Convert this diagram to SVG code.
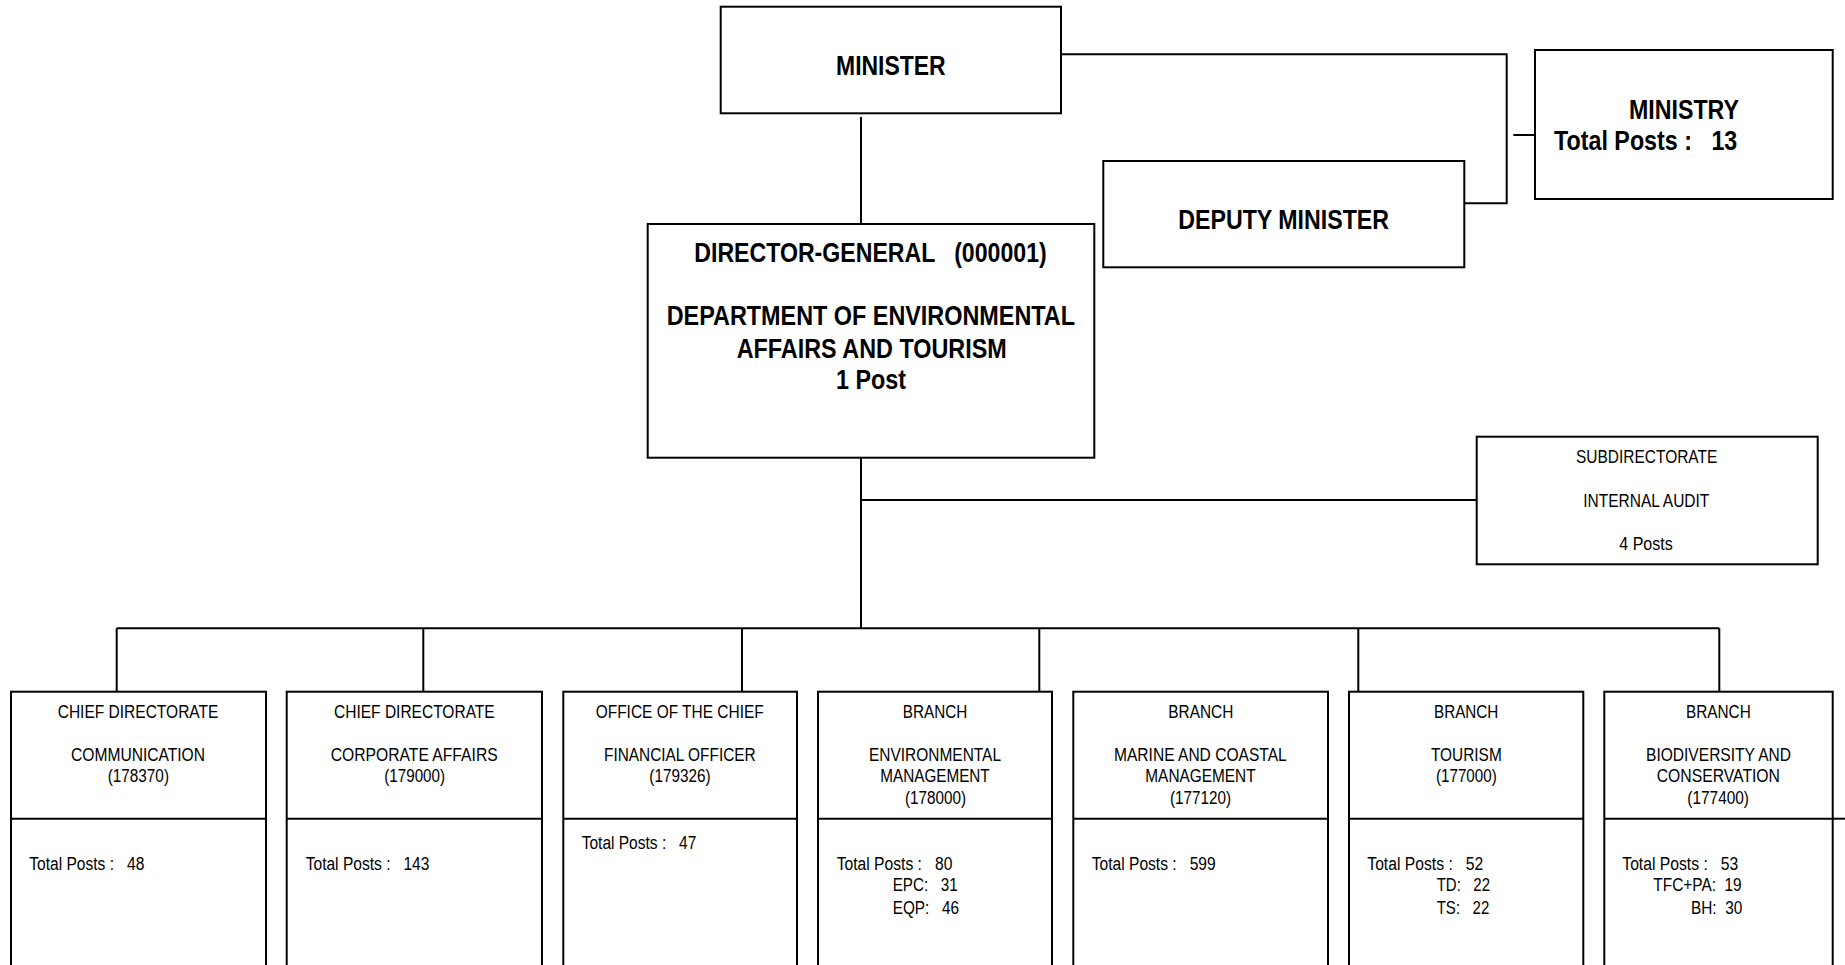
<svg xmlns="http://www.w3.org/2000/svg" width="1845" height="965" viewBox="0 0 1845 965">
<style>
text{font-family:"Liberation Sans Narrow","Liberation Sans",Arial,sans-serif;fill:#000;white-space:pre}
.b{font-weight:bold;font-size:27.5px}
.s{font-size:18px}
.box{fill:#fff;stroke:#000;stroke-width:2}
.ln{fill:none;stroke:#000;stroke-width:2}
</style>
<rect x="0" y="0" width="1845" height="965" fill="#fff"/>
<g id="connectors">
<path class="ln" d="M861,117 V224"/>
<path class="ln" d="M1061,54.3 H1506.7 V203.3 H1464.3"/>
<path class="ln" d="M1513.3,135 H1535"/>
<path class="ln" d="M861,457.7 V628.3"/>
<path class="ln" d="M861,500 H1476.7"/>
<path class="ln" d="M116.7,628.3 H1719.3"/>
<path class="ln" d="M116.7,628.3 V691.7 M423.3,628.3 V691.7 M742,628.3 V691.7 M1039.3,628.3 V691.7 M1358.3,628.3 V691.7 M1719.3,628.3 V691.7"/>
<path class="ln" d="M1832.7,818.7 H1845"/>
</g>
<g id="minister">
<rect class="box" x="720.7" y="6.7" width="340.3" height="106.6"/>
<text class="b" x="836" y="75" textLength="109.7" lengthAdjust="spacingAndGlyphs">MINISTER</text>
</g>
<g id="deputy-minister">
<rect class="box" x="1103.3" y="161" width="361" height="106.3"/>
<text class="b" x="1178.3" y="229.3" textLength="210.7" lengthAdjust="spacingAndGlyphs">DEPUTY MINISTER</text>
</g>
<g id="ministry">
<rect class="box" x="1535" y="50" width="297.7" height="149"/>
<text class="b" x="1629" y="119" textLength="110" lengthAdjust="spacingAndGlyphs">MINISTRY</text>
<text class="b" x="1554" y="150" textLength="183.3" lengthAdjust="spacingAndGlyphs">Total Posts :   13</text>
</g>
<g id="director-general">
<rect class="box" x="647.7" y="224" width="446.6" height="233.7"/>
<text class="b" x="694.3" y="261.7" textLength="352.4" lengthAdjust="spacingAndGlyphs">DIRECTOR-GENERAL   (000001)</text>
<text class="b" x="666.7" y="325" textLength="408.3" lengthAdjust="spacingAndGlyphs">DEPARTMENT OF ENVIRONMENTAL</text>
<text class="b" x="736.7" y="357.7" textLength="270" lengthAdjust="spacingAndGlyphs">AFFAIRS AND TOURISM</text>
<text class="b" x="836" y="389" textLength="70" lengthAdjust="spacingAndGlyphs">1 Post</text>
</g>
<g id="internal-audit">
<rect class="box" x="1476.7" y="436.7" width="341" height="127.6"/>
<text class="s" x="1576" y="463.3" textLength="141.3" lengthAdjust="spacingAndGlyphs">SUBDIRECTORATE</text>
<text class="s" x="1583.3" y="507.3" textLength="126" lengthAdjust="spacingAndGlyphs">INTERNAL AUDIT</text>
<text class="s" x="1619.3" y="550" textLength="53.4" lengthAdjust="spacingAndGlyphs">4 Posts</text>
</g>
<g id="communication">
<rect class="box" x="11" y="691.7" width="255" height="290"/>
<path class="ln" d="M11,818.7 H266"/>
<text class="s" x="57.7" y="717.7" textLength="160.7" lengthAdjust="spacingAndGlyphs">CHIEF DIRECTORATE</text>
<text class="s" x="71" y="760.7" textLength="134" lengthAdjust="spacingAndGlyphs">COMMUNICATION</text>
<text class="s" x="107.7" y="782.2" textLength="61.3" lengthAdjust="spacingAndGlyphs">(178370)</text>
<text class="s" x="29.3" y="870" textLength="115" lengthAdjust="spacingAndGlyphs">Total Posts :   48</text>
</g>
<g id="corporate-affairs">
<rect class="box" x="286.7" y="691.7" width="255.3" height="290"/>
<path class="ln" d="M286.7,818.7 H542"/>
<text class="s" x="334" y="717.7" textLength="160.7" lengthAdjust="spacingAndGlyphs">CHIEF DIRECTORATE</text>
<text class="s" x="330.7" y="760.7" textLength="167" lengthAdjust="spacingAndGlyphs">CORPORATE AFFAIRS</text>
<text class="s" x="384.3" y="782.2" textLength="60.7" lengthAdjust="spacingAndGlyphs">(179000)</text>
<text class="s" x="305.7" y="870" textLength="123.7" lengthAdjust="spacingAndGlyphs">Total Posts :   143</text>
</g>
<g id="cfo">
<rect class="box" x="563.3" y="691.7" width="233.7" height="290"/>
<path class="ln" d="M563.3,818.7 H797"/>
<text class="s" x="595.7" y="717.7" textLength="168" lengthAdjust="spacingAndGlyphs">OFFICE OF THE CHIEF</text>
<text class="s" x="604" y="760.7" textLength="151.7" lengthAdjust="spacingAndGlyphs">FINANCIAL OFFICER</text>
<text class="s" x="649.3" y="782.2" textLength="61.3" lengthAdjust="spacingAndGlyphs">(179326)</text>
<text class="s" x="581.7" y="849.3" textLength="114.7" lengthAdjust="spacingAndGlyphs">Total Posts :   47</text>
</g>
<g id="environmental-management">
<rect class="box" x="818" y="691.7" width="234" height="290"/>
<path class="ln" d="M818,818.7 H1052"/>
<text class="s" x="902.8" y="717.7" textLength="64.5" lengthAdjust="spacingAndGlyphs">BRANCH</text>
<text class="s" x="869" y="760.7" textLength="132" lengthAdjust="spacingAndGlyphs">ENVIRONMENTAL</text>
<text class="s" x="880.3" y="782.2" textLength="109.4" lengthAdjust="spacingAndGlyphs">MANAGEMENT</text>
<text class="s" x="905" y="803.7" textLength="61" lengthAdjust="spacingAndGlyphs">(178000)</text>
<text class="s" x="836.7" y="870" textLength="115.7" lengthAdjust="spacingAndGlyphs">Total Posts :   80</text>
<text class="s" x="892.7" y="891" textLength="65" lengthAdjust="spacingAndGlyphs">EPC:   31</text>
<text class="s" x="892.7" y="913.5" textLength="66.3" lengthAdjust="spacingAndGlyphs">EQP:   46</text>
</g>
<g id="marine-coastal">
<rect class="box" x="1073.3" y="691.7" width="254.7" height="290"/>
<path class="ln" d="M1073.3,818.7 H1328"/>
<text class="s" x="1168.3" y="717.7" textLength="65" lengthAdjust="spacingAndGlyphs">BRANCH</text>
<text class="s" x="1114" y="760.7" textLength="172.7" lengthAdjust="spacingAndGlyphs">MARINE AND COASTAL</text>
<text class="s" x="1145.3" y="782.2" textLength="110.3" lengthAdjust="spacingAndGlyphs">MANAGEMENT</text>
<text class="s" x="1170" y="803.7" textLength="61" lengthAdjust="spacingAndGlyphs">(177120)</text>
<text class="s" x="1091.7" y="870" textLength="124" lengthAdjust="spacingAndGlyphs">Total Posts :   599</text>
</g>
<g id="tourism">
<rect class="box" x="1349" y="691.7" width="234.3" height="290"/>
<path class="ln" d="M1349,818.7 H1583.3"/>
<text class="s" x="1434" y="717.7" textLength="64.3" lengthAdjust="spacingAndGlyphs">BRANCH</text>
<text class="s" x="1431" y="760.7" textLength="70.7" lengthAdjust="spacingAndGlyphs">TOURISM</text>
<text class="s" x="1436" y="782.2" textLength="60.7" lengthAdjust="spacingAndGlyphs">(177000)</text>
<text class="s" x="1367.3" y="870" textLength="116" lengthAdjust="spacingAndGlyphs">Total Posts :   52</text>
<text class="s" x="1436.7" y="891" textLength="53.3" lengthAdjust="spacingAndGlyphs">TD:   22</text>
<text class="s" x="1436.7" y="913.5" textLength="52.6" lengthAdjust="spacingAndGlyphs">TS:   22</text>
</g>
<g id="biodiversity-conservation">
<rect class="box" x="1604.3" y="691.7" width="228.4" height="290"/>
<path class="ln" d="M1604.3,818.7 H1832.7"/>
<text class="s" x="1686" y="717.7" textLength="64.7" lengthAdjust="spacingAndGlyphs">BRANCH</text>
<text class="s" x="1646" y="760.7" textLength="145" lengthAdjust="spacingAndGlyphs">BIODIVERSITY AND</text>
<text class="s" x="1656.7" y="782.2" textLength="123.3" lengthAdjust="spacingAndGlyphs">CONSERVATION</text>
<text class="s" x="1687.3" y="803.7" textLength="61.7" lengthAdjust="spacingAndGlyphs">(177400)</text>
<text class="s" x="1622.3" y="870" textLength="116" lengthAdjust="spacingAndGlyphs">Total Posts :   53</text>
<text class="s" x="1653.3" y="891" textLength="88.4" lengthAdjust="spacingAndGlyphs">TFC+PA:  19</text>
<text class="s" x="1691" y="913.5" textLength="51.3" lengthAdjust="spacingAndGlyphs">BH:  30</text>
</g>
</svg>
